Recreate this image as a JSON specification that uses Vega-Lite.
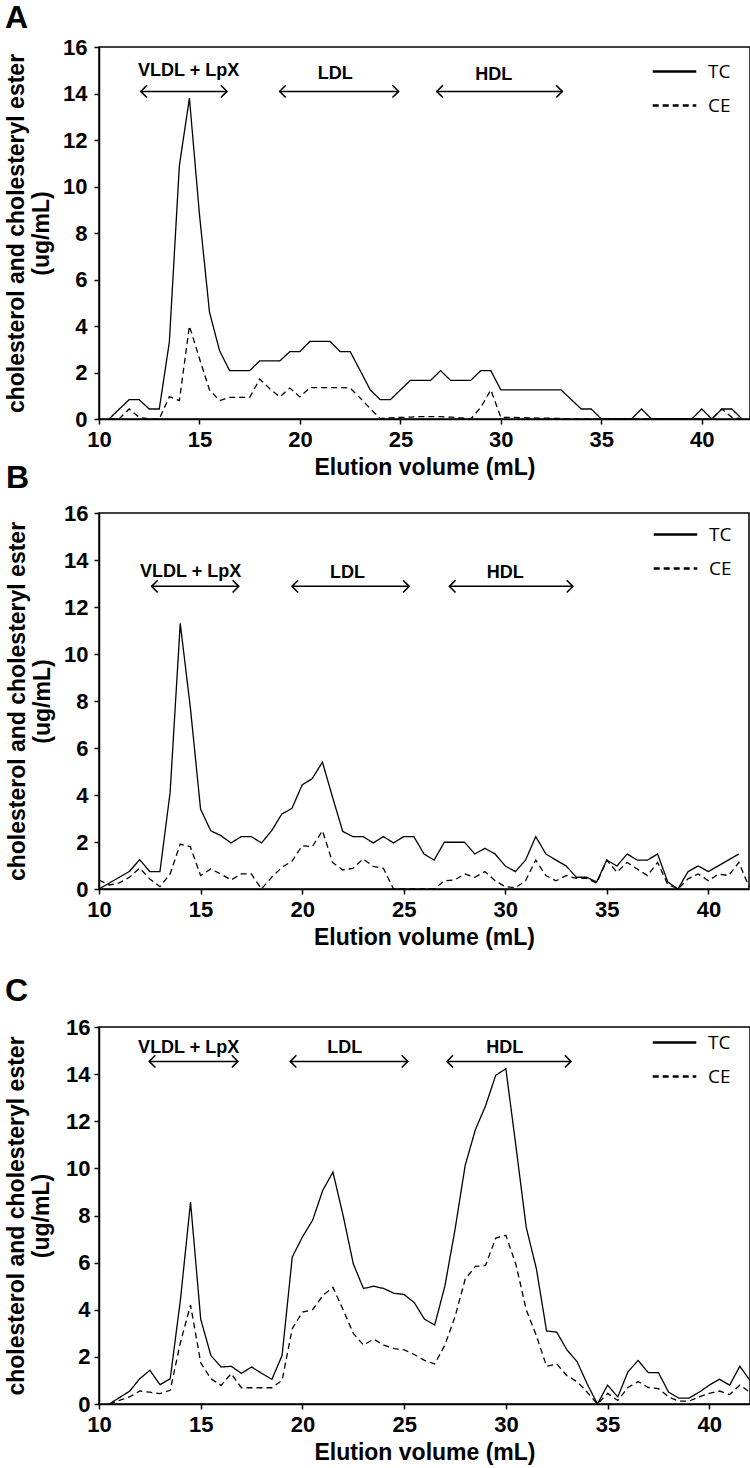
{
  "$schema": "https://vega.github.io/schema/vega-lite/v6.json",
  "padding": {"left": 4, "top": 1, "right": 0, "bottom": 0},
  "background": "white",
  "config": {
    "font": "Liberation Sans",
    "view": {"stroke": "black", "strokeWidth": 1.5},
    "axis": {
      "grid": false, "domainColor": "black", "domainWidth": 1.5,
      "tickColor": "black", "tickWidth": 1.5, "tickSize": 5,
      "labelFont": "Liberation Sans", "labelFontWeight": "bold", "labelFontSize": 22, "labelColor": "black",
      "titleFont": "Liberation Sans", "titleFontWeight": "bold", "titleFontSize": 23, "titleColor": "black"
    },
    "axisX": {"labelPadding": 5, "titlePadding": 6, "labelFlush": false},
    "axisY": {"titleLineHeight": 25},
    "title": {"font": "Liberation Sans", "fontWeight": "bold", "fontSize": 32, "color": "black", "anchor": "start", "frame": "group", "baseline": "alphabetic"}
  },
  "datasets": {
    "a": [
      {"ml":10.5,"TC":0,"CE":0},{"ml":11,"TC":0.42,"CE":0},{"ml":11.5,"TC":0.83,"CE":0.43},{"ml":12,"TC":0.83,"CE":0.07},
      {"ml":12.5,"TC":0.43,"CE":0},{"ml":13,"TC":0.43,"CE":0},{"ml":13.5,"TC":3.3,"CE":0.96},{"ml":14,"TC":10.9,"CE":0.79},
      {"ml":14.5,"TC":13.8,"CE":4.0},{"ml":15,"TC":8.8,"CE":2.6},{"ml":15.5,"TC":4.59,"CE":1.25},{"ml":16,"TC":2.94,"CE":0.79},
      {"ml":16.5,"TC":2.08,"CE":0.93},{"ml":17,"TC":2.08,"CE":0.93},{"ml":17.5,"TC":2.08,"CE":0.93},{"ml":18,"TC":2.5,"CE":1.72},
      {"ml":18.5,"TC":2.5,"CE":1.3},{"ml":19,"TC":2.5,"CE":0.95},{"ml":19.5,"TC":2.9,"CE":1.33},{"ml":20,"TC":2.9,"CE":0.95},
      {"ml":20.5,"TC":3.34,"CE":1.35},{"ml":21,"TC":3.34,"CE":1.35},{"ml":21.5,"TC":3.34,"CE":1.35},{"ml":22,"TC":2.9,"CE":1.35},
      {"ml":22.5,"TC":2.9,"CE":1.33},{"ml":23,"TC":2.08,"CE":0.9},{"ml":23.5,"TC":1.25,"CE":0.45},{"ml":24,"TC":0.83,"CE":0.02},
      {"ml":24.5,"TC":0.83,"CE":0.05},{"ml":25,"TC":1.25,"CE":0.07},{"ml":25.5,"TC":1.66,"CE":0.08},{"ml":26,"TC":1.66,"CE":0.1},
      {"ml":26.5,"TC":1.66,"CE":0.1},{"ml":27,"TC":2.08,"CE":0.1},{"ml":27.5,"TC":1.66,"CE":0.08},{"ml":28,"TC":1.66,"CE":0.05},
      {"ml":28.5,"TC":1.66,"CE":0},{"ml":29,"TC":2.08,"CE":0.5},{"ml":29.5,"TC":2.08,"CE":1.25},{"ml":30,"TC":1.25,"CE":0.07},
      {"ml":30.5,"TC":1.25,"CE":0.07},{"ml":31,"TC":1.25,"CE":0.06},{"ml":31.5,"TC":1.25,"CE":0.05},{"ml":32,"TC":1.25,"CE":0.04},
      {"ml":32.5,"TC":1.25,"CE":0.03},{"ml":33,"TC":1.25,"CE":0.02},{"ml":33.5,"TC":0.84,"CE":0.01},{"ml":34,"TC":0.43,"CE":0},
      {"ml":34.5,"TC":0.43,"CE":0},{"ml":35,"TC":0,"CE":0},{"ml":35.5,"TC":0,"CE":0},{"ml":36,"TC":0,"CE":0},
      {"ml":36.5,"TC":0,"CE":0},{"ml":37,"TC":0.43,"CE":0},{"ml":37.5,"TC":0,"CE":0},{"ml":38,"TC":0,"CE":0},
      {"ml":38.5,"TC":0,"CE":0},{"ml":39,"TC":0,"CE":0},{"ml":39.5,"TC":0,"CE":0},{"ml":40,"TC":0.43,"CE":0},
      {"ml":40.5,"TC":0,"CE":0},{"ml":41,"TC":0.43,"CE":0.43},{"ml":41.5,"TC":0.43,"CE":0.07},{"ml":42,"TC":0,"CE":0}
    ],
    "b": [
      {"ml":10,"TC":0,"CE":0.38},{"ml":10.5,"TC":0.25,"CE":0.17},{"ml":11,"TC":0.5,"CE":0.26},{"ml":11.5,"TC":0.75,"CE":0.5},
      {"ml":12,"TC":1.25,"CE":0.89},{"ml":12.5,"TC":0.74,"CE":0.43},{"ml":13,"TC":0.74,"CE":0.1},{"ml":13.5,"TC":4.1,"CE":0.64},
      {"ml":14,"TC":11.3,"CE":1.91},{"ml":14.5,"TC":7.7,"CE":1.8},{"ml":15,"TC":3.4,"CE":0.57},{"ml":15.5,"TC":2.48,"CE":0.85},
      {"ml":16,"TC":2.27,"CE":0.64},{"ml":16.5,"TC":1.96,"CE":0.38},{"ml":17,"TC":2.23,"CE":0.64},{"ml":17.5,"TC":2.23,"CE":0.64},
      {"ml":18,"TC":1.96,"CE":0},{"ml":18.5,"TC":2.48,"CE":0.5},{"ml":19,"TC":3.19,"CE":0.92},{"ml":19.5,"TC":3.43,"CE":1.18},
      {"ml":20,"TC":4.43,"CE":1.84},{"ml":20.5,"TC":4.7,"CE":1.8},{"ml":21,"TC":5.4,"CE":2.48},{"ml":21.5,"TC":3.9,"CE":1.13},
      {"ml":22,"TC":2.45,"CE":0.81},{"ml":22.5,"TC":2.23,"CE":0.88},{"ml":23,"TC":2.23,"CE":1.28},{"ml":23.5,"TC":1.96,"CE":0.96},
      {"ml":24,"TC":2.23,"CE":0.88},{"ml":24.5,"TC":1.96,"CE":0},{"ml":25,"TC":2.23,"CE":0},{"ml":25.5,"TC":2.23,"CE":0},
      {"ml":26,"TC":1.49,"CE":0},{"ml":26.5,"TC":1.23,"CE":0},{"ml":27,"TC":1.99,"CE":0.35},{"ml":27.5,"TC":1.99,"CE":0.38},
      {"ml":28,"TC":1.99,"CE":0.64},{"ml":28.5,"TC":1.49,"CE":0.5},{"ml":29,"TC":1.73,"CE":0.74},{"ml":29.5,"TC":1.49,"CE":0.35},
      {"ml":30,"TC":0.98,"CE":0.1},{"ml":30.5,"TC":0.74,"CE":0.05},{"ml":31,"TC":1.23,"CE":0.35},{"ml":31.5,"TC":2.23,"CE":1.23},
      {"ml":32,"TC":1.49,"CE":0.57},{"ml":32.5,"TC":1.23,"CE":0.35},{"ml":33,"TC":0.98,"CE":0.57},{"ml":33.5,"TC":0.5,"CE":0.45},
      {"ml":34,"TC":0.5,"CE":0.45},{"ml":34.5,"TC":0.3,"CE":0.25},{"ml":35,"TC":1.23,"CE":1.23},{"ml":35.5,"TC":0.98,"CE":0.71},
      {"ml":36,"TC":1.49,"CE":1.13},{"ml":36.5,"TC":1.23,"CE":0.85},{"ml":37,"TC":1.23,"CE":0.57},{"ml":37.5,"TC":1.49,"CE":1.13},
      {"ml":38,"TC":0.3,"CE":0.2},{"ml":38.5,"TC":0,"CE":0},{"ml":39,"TC":0.74,"CE":0.43},{"ml":39.5,"TC":0.98,"CE":0.64},
      {"ml":40,"TC":0.74,"CE":0.35},{"ml":40.5,"TC":0.99,"CE":0.64},{"ml":41,"TC":1.24,"CE":0.57},{"ml":41.5,"TC":1.49,"CE":1.13},
      {"ml":42,"TC":null,"CE":0.1}
    ],
    "c": [
      {"ml":10.5,"TC":0,"CE":0},{"ml":11,"TC":0.27,"CE":0.15},{"ml":11.5,"TC":0.54,"CE":0.3},{"ml":12,"TC":1.07,"CE":0.55},
      {"ml":12.5,"TC":1.43,"CE":0.5},{"ml":13,"TC":0.82,"CE":0.44},{"ml":13.5,"TC":1.07,"CE":0.58},{"ml":14,"TC":4.4,"CE":2.6},
      {"ml":14.5,"TC":8.57,"CE":4.2},{"ml":15,"TC":3.6,"CE":1.75},{"ml":15.5,"TC":2.06,"CE":1.07},{"ml":16,"TC":1.57,"CE":0.79},
      {"ml":16.5,"TC":1.6,"CE":1.29},{"ml":17,"TC":1.3,"CE":0.69},{"ml":17.5,"TC":1.57,"CE":0.69},{"ml":18,"TC":1.3,"CE":0.69},
      {"ml":18.5,"TC":1.05,"CE":0.69},{"ml":19,"TC":2.06,"CE":1.0},{"ml":19.5,"TC":6.24,"CE":3.2},{"ml":20,"TC":7.09,"CE":3.9},
      {"ml":20.5,"TC":7.8,"CE":4.0},{"ml":21,"TC":9.07,"CE":4.6},{"ml":21.5,"TC":9.84,"CE":4.95},{"ml":22,"TC":8.0,"CE":4.0},
      {"ml":22.5,"TC":5.95,"CE":3.0},{"ml":23,"TC":4.9,"CE":2.5},{"ml":23.5,"TC":5.0,"CE":2.75},{"ml":24,"TC":4.9,"CE":2.5},
      {"ml":24.5,"TC":4.7,"CE":2.35},{"ml":25,"TC":4.65,"CE":2.3},{"ml":25.5,"TC":4.3,"CE":2.1},{"ml":26,"TC":3.6,"CE":1.85},
      {"ml":26.5,"TC":3.35,"CE":1.7},{"ml":27,"TC":5.0,"CE":2.5},{"ml":27.5,"TC":7.4,"CE":3.7},{"ml":28,"TC":10.13,"CE":5.3},
      {"ml":28.5,"TC":11.64,"CE":5.84},{"ml":29,"TC":12.65,"CE":5.88},{"ml":29.5,"TC":13.95,"CE":7.04},{"ml":30,"TC":14.23,"CE":7.16},
      {"ml":30.5,"TC":10.9,"CE":5.9},{"ml":31,"TC":7.5,"CE":4.0},{"ml":31.5,"TC":5.74,"CE":2.9},{"ml":32,"TC":3.1,"CE":1.6},
      {"ml":32.5,"TC":3.05,"CE":1.7},{"ml":33,"TC":2.3,"CE":1.2},{"ml":33.5,"TC":1.8,"CE":0.95},{"ml":34,"TC":0.85,"CE":0.5},
      {"ml":34.5,"TC":0,"CE":0},{"ml":35,"TC":0.8,"CE":0.45},{"ml":35.5,"TC":0.3,"CE":0.15},{"ml":36,"TC":1.36,"CE":0.7},
      {"ml":36.5,"TC":1.85,"CE":0.95},{"ml":37,"TC":1.33,"CE":0.7},{"ml":37.5,"TC":1.33,"CE":0.65},{"ml":38,"TC":0.5,"CE":0.3},
      {"ml":38.5,"TC":0.25,"CE":0.12},{"ml":39,"TC":0.25,"CE":0.12},{"ml":39.5,"TC":0.5,"CE":0.3},{"ml":40,"TC":0.8,"CE":0.45},
      {"ml":40.5,"TC":1.05,"CE":0.55},{"ml":41,"TC":0.8,"CE":0.4},{"ml":41.5,"TC":1.6,"CE":0.8},{"ml":42,"TC":1.0,"CE":0.5}
    ],
    "annA": [
      {"lab":"VLDL + LpX","x1":12.08,"x2":16.37,"tx":14.46,"ya":14.09,"yt":14.95},
      {"lab":"LDL","x1":18.99,"x2":24.91,"tx":21.76,"ya":14.09,"yt":14.85},
      {"lab":"HDL","x1":26.81,"x2":33.06,"tx":29.65,"ya":14.09,"yt":14.8}
    ],
    "annB": [
      {"lab":"VLDL + LpX","x1":12.59,"x2":16.88,"tx":14.51,"ya":12.88,"yt":13.5},
      {"lab":"LDL","x1":19.5,"x2":25.27,"tx":22.23,"ya":12.88,"yt":13.45},
      {"lab":"HDL","x1":27.25,"x2":33.33,"tx":30.0,"ya":12.88,"yt":13.45}
    ],
    "annC": [
      {"lab":"VLDL + LpX","x1":12.47,"x2":16.83,"tx":14.41,"ya":14.54,"yt":15.1},
      {"lab":"LDL","x1":19.4,"x2":25.18,"tx":22.08,"ya":14.54,"yt":15.1},
      {"lab":"HDL","x1":27.1,"x2":33.2,"tx":29.95,"ya":14.54,"yt":15.1}
    ]
  },
  "resolve": {"scale": {"x": "independent", "y": "independent", "strokeDash": "independent"}, "legend": {"strokeDash": "independent"}},
  "bounds": "full",
  "spacing": 24,
  "vconcat": [
    {
      "bounds": "flush",
      "spacing": 94,
      "resolve": {"scale": {"x": "independent", "y": "independent", "strokeDash": "independent"}, "legend": {"strokeDash": "independent"}},
      "vconcat": [
        {
          "width": 651, "height": 372,
          "title": {"text": "A", "dx": -94, "offset": 1},
          "layer": [
            {
              "data": {"name": "a"},
              "transform": [{"fold": ["TC", "CE"], "as": ["series", "val"]}],
              "mark": {"type": "line", "color": "black", "strokeWidth": 1.3},
              "encoding": {
                "x": {"field": "ml", "type": "quantitative", "scale": {"domain": [10, 42.4], "nice": false, "zero": false}, "axis": {"values": [10,15,20,25,30,35,40], "title": "Elution volume (mL)"}},
                "y": {"field": "val", "type": "quantitative", "scale": {"domain": [0, 16], "nice": false}, "axis": {"values": [0,2,4,6,8,10,12,14,16], "labelPadding": 7, "titlePadding": 9, "title": ["cholesterol and cholesteryl ester", "(ug/mL)"]}},
                "strokeDash": {"field": "series", "type": "nominal", "scale": {"domain": ["TC", "CE"], "range": [[1, 0], [6, 4]]},
                  "legend": {"orient": "none", "legendX": 552, "legendY": 1, "title": null, "symbolType": "stroke", "symbolSize": 1900, "symbolStrokeWidth": 2.6, "symbolStrokeColor": "black", "labelFont": "Open Sans", "labelFontSize": 19, "labelColor": "black", "labelOffset": 10, "rowPadding": -18.5, "padding": 0,
                    "encode": {"symbols": {"update": {"strokeDash": {"signal": "datum.value === 'CE' ? [11, 5] : [1, 0]"}}}}}}
              }
            },
            {
              "data": {"name": "annA"},
              "mark": {"type": "rule", "color": "black", "strokeWidth": 1.5},
              "encoding": {"x": {"field": "x1", "type": "quantitative", "title": "Elution volume (mL)"}, "x2": {"field": "x2"}, "y": {"field": "ya", "type": "quantitative", "title": ["cholesterol and cholesteryl ester", "(ug/mL)"]}}
            },
            {
              "data": {"name": "annA"},
              "mark": {"type": "point", "shape": "M1,-1L0,0L1,1", "filled": false, "color": "black", "strokeWidth": 1.6, "size": 150, "opacity": 1},
              "encoding": {"x": {"field": "x1", "type": "quantitative", "title": "Elution volume (mL)"}, "y": {"field": "ya", "type": "quantitative", "title": ["cholesterol and cholesteryl ester", "(ug/mL)"]}}
            },
            {
              "data": {"name": "annA"},
              "mark": {"type": "point", "shape": "M-1,-1L0,0L-1,1", "filled": false, "color": "black", "strokeWidth": 1.6, "size": 150, "opacity": 1},
              "encoding": {"x": {"field": "x2", "type": "quantitative", "title": "Elution volume (mL)"}, "y": {"field": "ya", "type": "quantitative", "title": ["cholesterol and cholesteryl ester", "(ug/mL)"]}}
            },
            {
              "data": {"name": "annA"},
              "mark": {"type": "text", "font": "Liberation Sans", "fontWeight": "bold", "fontSize": 18, "color": "black", "align": "center", "baseline": "middle"},
              "encoding": {"x": {"field": "tx", "type": "quantitative", "title": "Elution volume (mL)"}, "y": {"field": "yt", "type": "quantitative", "title": ["cholesterol and cholesteryl ester", "(ug/mL)"]}, "text": {"field": "lab"}}
            }
          ]
        },
        {
          "width": 650, "height": 376,
          "title": {"text": "B", "dx": -93, "offset": 7},
          "layer": [
            {
              "data": {"name": "b"},
              "transform": [{"fold": ["TC", "CE"], "as": ["series", "val"]}],
              "mark": {"type": "line", "color": "black", "strokeWidth": 1.3},
              "encoding": {
                "x": {"field": "ml", "type": "quantitative", "scale": {"domain": [10, 42], "nice": false, "zero": false}, "axis": {"values": [10,15,20,25,30,35,40], "title": "Elution volume (mL)"}},
                "y": {"field": "val", "type": "quantitative", "scale": {"domain": [0, 16], "nice": false}, "axis": {"values": [0,2,4,6,8,10,12,14,16], "labelPadding": 6, "titlePadding": 9, "title": ["cholesterol and cholesteryl ester", "(ug/mL)"]}},
                "strokeDash": {"field": "series", "type": "nominal", "scale": {"domain": ["TC", "CE"], "range": [[1, 0], [6, 4]]},
                  "legend": {"orient": "none", "legendX": 553, "legendY": -2, "title": null, "symbolType": "stroke", "symbolSize": 1900, "symbolStrokeWidth": 2.6, "symbolStrokeColor": "black", "labelFont": "Open Sans", "labelFontSize": 19, "labelColor": "black", "labelOffset": 10, "rowPadding": -16, "padding": 0,
                    "encode": {"symbols": {"update": {"strokeDash": {"signal": "datum.value === 'CE' ? [11, 5] : [1, 0]"}}}}}}
              }
            },
            {
              "data": {"name": "annB"},
              "mark": {"type": "rule", "color": "black", "strokeWidth": 1.5},
              "encoding": {"x": {"field": "x1", "type": "quantitative", "title": "Elution volume (mL)"}, "x2": {"field": "x2"}, "y": {"field": "ya", "type": "quantitative", "title": ["cholesterol and cholesteryl ester", "(ug/mL)"]}}
            },
            {
              "data": {"name": "annB"},
              "mark": {"type": "point", "shape": "M1,-1L0,0L1,1", "filled": false, "color": "black", "strokeWidth": 1.6, "size": 150, "opacity": 1},
              "encoding": {"x": {"field": "x1", "type": "quantitative", "title": "Elution volume (mL)"}, "y": {"field": "ya", "type": "quantitative", "title": ["cholesterol and cholesteryl ester", "(ug/mL)"]}}
            },
            {
              "data": {"name": "annB"},
              "mark": {"type": "point", "shape": "M-1,-1L0,0L-1,1", "filled": false, "color": "black", "strokeWidth": 1.6, "size": 150, "opacity": 1},
              "encoding": {"x": {"field": "x2", "type": "quantitative", "title": "Elution volume (mL)"}, "y": {"field": "ya", "type": "quantitative", "title": ["cholesterol and cholesteryl ester", "(ug/mL)"]}}
            },
            {
              "data": {"name": "annB"},
              "mark": {"type": "text", "font": "Liberation Sans", "fontWeight": "bold", "fontSize": 18, "color": "black", "align": "center", "baseline": "middle"},
              "encoding": {"x": {"field": "tx", "type": "quantitative", "title": "Elution volume (mL)"}, "y": {"field": "yt", "type": "quantitative", "title": ["cholesterol and cholesteryl ester", "(ug/mL)"]}, "text": {"field": "lab"}}
            }
          ]
        }
      ]
    },
    {
      "width": 651, "height": 377,
      "title": {"text": "C", "dx": -94, "offset": 8},
      "layer": [
        {
          "data": {"name": "c"},
          "transform": [{"fold": ["TC", "CE"], "as": ["series", "val"]}],
          "mark": {"type": "line", "color": "black", "strokeWidth": 1.3},
          "encoding": {
            "x": {"field": "ml", "type": "quantitative", "scale": {"domain": [10, 42], "nice": false, "zero": false}, "axis": {"values": [10,15,20,25,30,35,40], "title": "Elution volume (mL)"}},
            "y": {"field": "val", "type": "quantitative", "scale": {"domain": [0, 16], "nice": false}, "axis": {"values": [0,2,4,6,8,10,12,14,16], "labelPadding": 4, "titlePadding": 12, "title": ["cholesterol and cholesteryl ester", "(ug/mL)"]}},
            "strokeDash": {"field": "series", "type": "nominal", "scale": {"domain": ["TC", "CE"], "range": [[1, 0], [6, 4]]},
              "legend": {"orient": "none", "legendX": 552, "legendY": -8, "title": null, "symbolType": "stroke", "symbolSize": 1900, "symbolStrokeWidth": 2.6, "symbolStrokeColor": "black", "labelFont": "Open Sans", "labelFontSize": 19, "labelColor": "black", "labelOffset": 10, "rowPadding": -13, "padding": 0,
                "encode": {"symbols": {"update": {"strokeDash": {"signal": "datum.value === 'CE' ? [11, 5] : [1, 0]"}}}}}}
          }
        },
        {
          "data": {"name": "annC"},
          "mark": {"type": "rule", "color": "black", "strokeWidth": 1.5},
          "encoding": {"x": {"field": "x1", "type": "quantitative", "title": "Elution volume (mL)"}, "x2": {"field": "x2"}, "y": {"field": "ya", "type": "quantitative", "title": ["cholesterol and cholesteryl ester", "(ug/mL)"]}}
        },
        {
          "data": {"name": "annC"},
          "mark": {"type": "point", "shape": "M1,-1L0,0L1,1", "filled": false, "color": "black", "strokeWidth": 1.6, "size": 150, "opacity": 1},
          "encoding": {"x": {"field": "x1", "type": "quantitative", "title": "Elution volume (mL)"}, "y": {"field": "ya", "type": "quantitative", "title": ["cholesterol and cholesteryl ester", "(ug/mL)"]}}
        },
        {
          "data": {"name": "annC"},
          "mark": {"type": "point", "shape": "M-1,-1L0,0L-1,1", "filled": false, "color": "black", "strokeWidth": 1.6, "size": 150, "opacity": 1},
          "encoding": {"x": {"field": "x2", "type": "quantitative", "title": "Elution volume (mL)"}, "y": {"field": "ya", "type": "quantitative", "title": ["cholesterol and cholesteryl ester", "(ug/mL)"]}}
        },
        {
          "data": {"name": "annC"},
          "mark": {"type": "text", "font": "Liberation Sans", "fontWeight": "bold", "fontSize": 18, "color": "black", "align": "center", "baseline": "middle"},
          "encoding": {"x": {"field": "tx", "type": "quantitative", "title": "Elution volume (mL)"}, "y": {"field": "yt", "type": "quantitative", "title": ["cholesterol and cholesteryl ester", "(ug/mL)"]}, "text": {"field": "lab"}}
        }
      ]
    }
  ]
}
